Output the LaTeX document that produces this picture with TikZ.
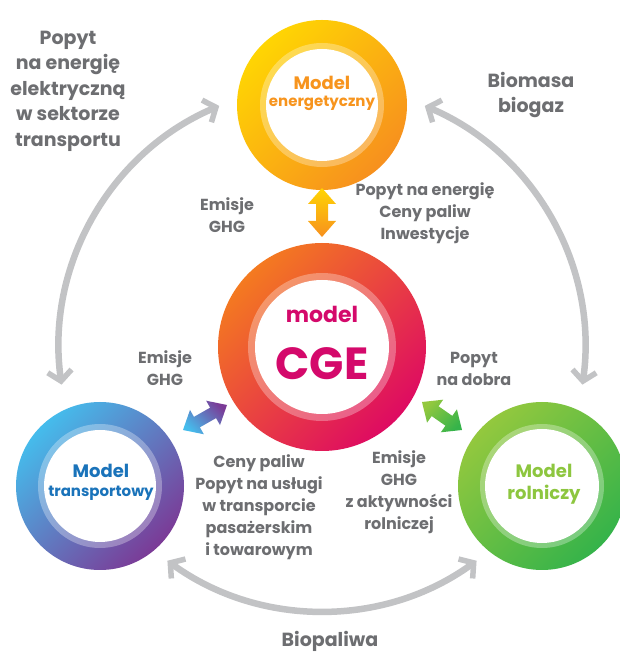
\documentclass[tikz,border=0pt]{standalone}
\usepackage{fontspec}
\setmainfont{Poppins}
\usetikzlibrary{calc,arrows.meta}
\definecolor{txtgray}{HTML}{6D6E71}
\definecolor{arcgray}{HTML}{C2C3C5}
\definecolor{eA}{HTML}{FFD503}
\definecolor{eB}{HTML}{F7901E}
\definecolor{eT}{HTML}{F7941D}
\definecolor{cA}{HTML}{F47A20}
\definecolor{cB}{HTML}{DE0A62}
\definecolor{cT}{HTML}{D4096B}
\definecolor{tA}{HTML}{45BCEC}
\definecolor{tB}{HTML}{7B3A96}
\definecolor{tT}{HTML}{1A73BA}
\definecolor{rA}{HTML}{93C83E}
\definecolor{rB}{HTML}{35B34A}
\definecolor{rT}{HTML}{8DC63F}
\tikzset{gbarb/.tip={Straight Barb[length=10pt,width=24pt,line width=5.5pt]}}
\newcommand\dblarr[3]{%
  \path[#3] (#1) -- ($(#1)!16pt!(#2)!14pt!90:(#2)$) -- ($(#1)!16pt!(#2)!6pt!90:(#2)$)
   -- ($(#2)!16pt!(#1)!6pt!-90:(#1)$) -- ($(#2)!16pt!(#1)!14pt!-90:(#1)$) -- (#2)
   -- ($(#2)!16pt!(#1)!14pt!90:(#1)$) -- ($(#2)!16pt!(#1)!6pt!90:(#1)$)
   -- ($(#1)!16pt!(#2)!6pt!-90:(#2)$) -- ($(#1)!16pt!(#2)!14pt!-90:(#2)$) -- cycle;}
\begin{document}
\begin{tikzpicture}[x=1pt,y=1pt,
  ring/.style={circle, inner sep=0pt, minimum size=#1},
  gtxt/.style={text=txtgray, align=center, inner sep=0pt, font=\bfseries\fontsize{16}{22}\selectfont},
  bigtxt/.style={text=txtgray, align=center, inner sep=0pt, font=\bfseries\fontsize{19}{25.5}\selectfont},
  lab/.style={anchor=base, inner sep=0pt},
  arcarrow/.style={draw=arcgray, line width=6.5pt, gbarb-gbarb}]
\fill[white] (0,0) rectangle (619,653);
\useasboundingbox (0,0) rectangle (619,653);
% gray arcs
\coordinate (O) at (322,305);
\coordinate (L1) at ($(O)+(113:263)$);
\coordinate (R1) at ($(O)+(67:263)$);
\coordinate (B1) at ($(O)+(234:263)$);
\draw[arcarrow] (L1) arc[start angle=113, end angle=188, radius=263];
\draw[arcarrow] (R1) arc[start angle=67, end angle=-8, radius=263];
\draw[arcarrow] (B1) arc[start angle=234, end angle=306, radius=263];
% circles
\node[ring=170pt, top color=eA, bottom color=eB, shading angle=45] (E) at (322,548) {};
\fill[white, fill opacity=0.3] (E.center) circle[radius=62];
\fill[white] (E.center) circle[radius=56];
\node[ring=208pt, top color=cA, bottom color=cB, shading angle=45] (C) at (322,306) {};
\fill[white, fill opacity=0.3] (C.center) circle[radius=74];
\fill[white] (C.center) circle[radius=67];
\node[ring=168pt, top color=tA, bottom color=tB, shading angle=45] (T) at (100,167) {};
\fill[white, fill opacity=0.3] (T.center) circle[radius=62];
\fill[white] (T.center) circle[radius=56];
\node[ring=168pt, top color=rA, bottom color=rB, shading angle=45] (R) at (542,167) {};
\fill[white, fill opacity=0.3] (R.center) circle[radius=62];
\fill[white] (R.center) circle[radius=57];
% circle labels
\node[lab, text=eT, font=\bfseries\fontsize{18}{20}\selectfont] (E1) at (322,563) {Model};
\node[lab, text=eT, font=\bfseries\fontsize{15}{17}\selectfont] (E2) at (322,546) {energetyczny};
\node[lab, text=cT, font=\bfseries\fontsize{22}{24}\selectfont] (C1) at (322,330) {model};
\node[lab, text=cT, font=\bfseries\fontsize{45}{48}\selectfont] (C2) at (322,273) {CGE};
\node[lab, text=tT, font=\bfseries\fontsize{18}{20}\selectfont] (T1) at (101,175) {Model};
\node[lab, text=tT, font=\bfseries\fontsize{15}{17}\selectfont] (T2) at (101,156) {transportowy};
\node[lab, text=rT, font=\bfseries\fontsize{18}{20}\selectfont] (R1l) at (544,175) {Model};
\node[lab, text=rT, font=\bfseries\fontsize{18}{20}\selectfont] (R2l) at (544,153) {rolniczy};
% small double arrows
\coordinate (va) at (322,465);
\coordinate (vb) at (322,416);
\dblarr{va}{vb}{top color=eA, bottom color=eB}
\coordinate (la) at (183,223);
\coordinate (lb) at (227,248);
\dblarr{la}{lb}{top color=tB, bottom color=tA, shading angle=-45}
\coordinate (ra) at (422,251);
\coordinate (rb) at (462,223);
\dblarr{ra}{rb}{top color=rA, bottom color=rB, shading angle=45}
% gray texts
\node[bigtxt] (t1) at (68,562) {Popyt\\na energię\\elektryczną\\w sektorze\\transportu};
\node[bigtxt] (t2) at (531,558) {Biomasa\\biogaz};
\node[gtxt] (t3) at (227,438) {Emisje\\GHG};
\node[gtxt] (t4) at (425,440) {Popyt na energię\\Ceny paliw\\Inwestycje};
\node[gtxt] (t5) at (165,285) {Emisje\\GHG};
\node[gtxt] (t6) at (474,284) {Popyt\\na dobra};
\node[gtxt] (t7) at (259,146) {Ceny paliw\\Popyt na usługi\\w transporcie\\pasażerskim\\i towarowym};
\node[gtxt] (t8) at (399,161) {Emisje\\GHG\\z aktywności\\rolniczej};
\node[bigtxt, anchor=base] (t9) at (330,6) {Biopaliwa};
\end{tikzpicture}
\end{document}
